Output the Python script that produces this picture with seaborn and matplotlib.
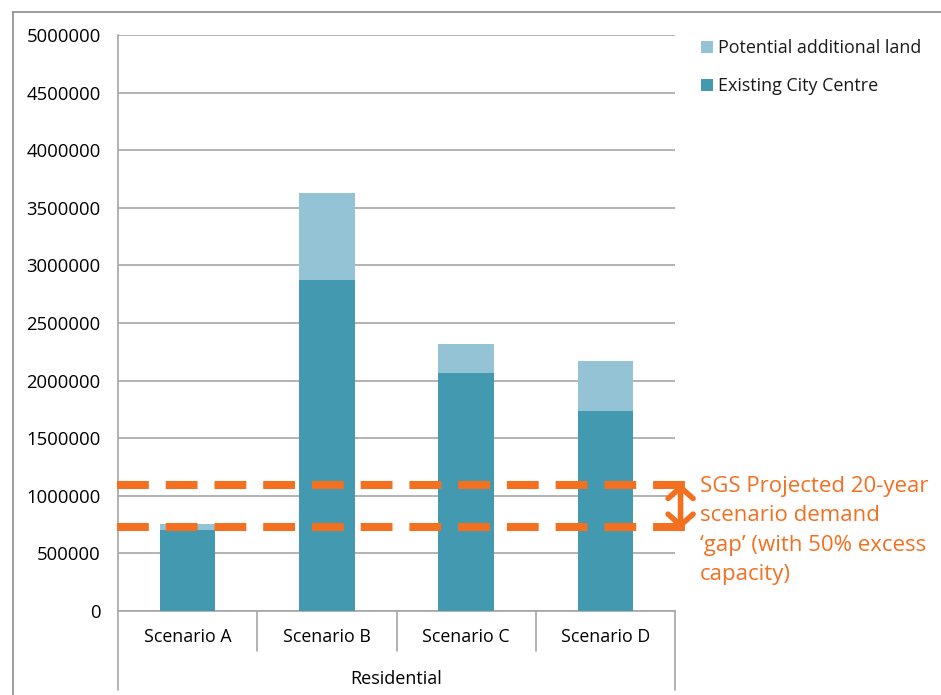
import numpy as np
import pandas as pd
import matplotlib
matplotlib.use("Agg")
import matplotlib.pyplot as plt
import matplotlib.transforms as mtransforms
from matplotlib.patches import Rectangle
from matplotlib.lines import Line2D
import seaborn as sns

# data
scenarios = ["Scenario A", "Scenario B", "Scenario C", "Scenario D"]
existing_city_centre = [700000, 2870000, 2070000, 1740000]
potential_additional = [57000, 760000, 250000, 430000]
group_label = "Residential"
demand_low = 727000
demand_high = 1090500
yticks = [0, 500000, 1000000, 1500000, 2000000, 2500000, 3000000, 3500000, 4000000, 4500000, 5000000]
legend_labels = ["Potential additional land", "Existing City Centre"]
note_lines = ["SGS Projected 20-year", "scenario demand",
              "\u2018gap\u2019 (with 50% excess", "capacity)"]

dark_col = "#4399B0"
light_col = "#93C3D5"
orange = "#F37021"
grid_col = "#A6A6A6"

df = pd.DataFrame({
    "scenario": scenarios,
    "existing": existing_city_centre,
    "total": np.array(existing_city_centre) + np.array(potential_additional),
})

sns.set_style("white")
plt.rcParams["font.family"] = ["Open Sans", "DejaVu Sans"]

W, H = 941, 695
fig = plt.figure(figsize=(W / 100, H / 100), dpi=100)
ax = fig.add_axes([118 / W, 1 - 611 / H, 557 / W, 576 / H])

sns.barplot(data=df, x="scenario", y="total", color=light_col, width=0.4,
            saturation=1, ax=ax, zorder=2)
sns.barplot(data=df, x="scenario", y="existing", color=dark_col, width=0.4,
            saturation=1, ax=ax, zorder=3)
for p in ax.patches:
    p.set_edgecolor("none")

ax.set_xlim(-0.5, 3.5)
ax.set_ylim(0, 5000000)
ax.set_yticks(yticks)
ax.set_yticklabels([str(v) for v in yticks], fontsize=13.3, color="#000000")
ax.yaxis.grid(True, color=grid_col, linewidth=1.2, zorder=0)
ax.set_axisbelow(True)
ax.tick_params(axis="y", length=6, width=1.2, color=grid_col, pad=6.5)
ax.tick_params(axis="x", length=0, labelbottom=False)
ax.set_xlabel("")
ax.set_ylabel("")
for s in ["top", "right"]:
    ax.spines[s].set_visible(False)
for s in ["left", "bottom"]:
    ax.spines[s].set_color(grid_col)
    ax.spines[s].set_linewidth(1.2)

# category separators and labels below the axis
trans = mtransforms.blended_transform_factory(ax.transData, ax.transAxes)
seps = np.arange(len(scenarios) + 1) - 0.5
for i, x in enumerate(seps):
    y_end = -79 / 576 if i in (0, len(seps) - 1) else -40 / 576
    ax.plot([x, x], [0, y_end], transform=trans, color=grid_col,
            linewidth=1.2, clip_on=False)
for i, name in enumerate(scenarios):
    ax.text(i, -26 / 576, name, transform=trans, ha="center", va="center",
            fontsize=12.8, color="#000000")
ax.text(1.5, -68 / 576, group_label, transform=trans, ha="center",
        va="center", fontsize=13, color="#000000")

# demand gap dashed lines and arrow
x_end = 3.593
for yv in (demand_low, demand_high):
    ax.plot([-0.505, x_end], [yv, yv], color=orange, linewidth=5.8,
            linestyle=(0, (3.95, 2.1)), dash_capstyle="butt",
            solid_capstyle="butt", clip_on=False, zorder=5)
ax.annotate("", xy=(3.54, demand_high + 15000), xytext=(3.54, demand_low - 15000),
            arrowprops=dict(arrowstyle="<->,head_length=0.8,head_width=0.9",
                            color=orange, lw=4, shrinkA=0, shrinkB=0),
            annotation_clip=False, zorder=6)
for k, line in enumerate(note_lines):
    fig.text(700 / W, 1 - (492 + 29.3 * k) / H, line, ha="left",
             va="baseline", fontsize=16, color=orange)

# legend drawn as figure patches + text
legend_cols = [light_col, dark_col]
for k, (lab, col) in enumerate(zip(legend_labels, legend_cols)):
    top = 41 + 38 * k
    fig.add_artist(Rectangle((701 / W, 1 - (top + 12) / H), 12 / W, 12 / H,
                             facecolor=col, edgecolor="none",
                             transform=fig.transFigure))
    fig.text(718 / W, 1 - (top + 12) / H, lab, ha="left", va="baseline",
             fontsize=12.9, color="#1a1a1a")

# outer chart frame
fig.add_artist(Line2D([13 / W, 1], [1 - 12 / H, 1 - 12 / H], color="#8C8C8C", linewidth=1.2))
fig.add_artist(Line2D([13 / W, 13 / W], [0, 1 - 12 / H], color="#8C8C8C", linewidth=1.2))

fig.savefig("out.png", dpi=100)
